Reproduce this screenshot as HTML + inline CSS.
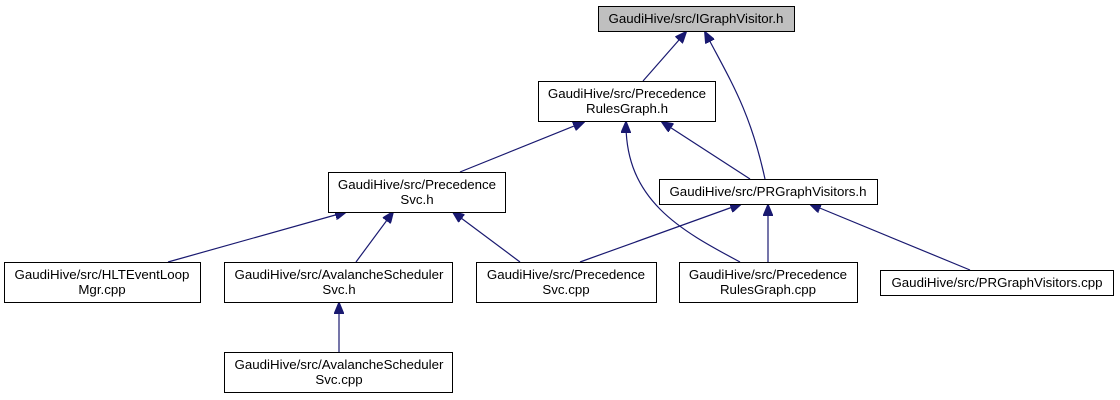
<!DOCTYPE html>
<html><head><style>
body{margin:0;background:#fff;}
svg{display:block;}
text{font-family:"Liberation Sans",sans-serif;font-size:13.3px;fill:#000;text-anchor:middle;}
rect{stroke:#000;stroke-width:1;fill:#fff;}
path{stroke:#191970;stroke-width:1.2;fill:none;}
</style></head><body>
<svg width="1120" height="400" viewBox="0 0 1120 400" xmlns="http://www.w3.org/2000/svg">
<defs>
<marker id="a" markerWidth="12" markerHeight="10" refX="11" refY="5" orient="auto" markerUnits="userSpaceOnUse">
<path d="M0,0 L12,5 L0,10 Z" style="fill:#191970;stroke:#191970;stroke-width:1"/>
</marker>
</defs>
<path d="M643,81 L686,32" marker-end="url(#a)"/>
<path d="M765,179 C750,110 730,80 705,32" marker-end="url(#a)"/>
<path d="M460,172 L584,122" marker-end="url(#a)"/>
<path d="M750,179 L662,122" marker-end="url(#a)"/>
<path d="M740,262 C680,230 625,200 626,122" marker-end="url(#a)"/>
<path d="M168,262 L346,212" marker-end="url(#a)"/>
<path d="M356,262 L393,212" marker-end="url(#a)"/>
<path d="M520,262 L453,212" marker-end="url(#a)"/>
<path d="M580,262 L741,204" marker-end="url(#a)"/>
<path d="M768,262 L768,205" marker-end="url(#a)"/>
<path d="M970,270 L810,204" marker-end="url(#a)"/>
<path d="M339,352 L339,303" marker-end="url(#a)"/>

<rect x="598.5" y="6.5" width="196" height="25" style="fill:#bfbfbf"/>
<text x="696" y="23">GaudiHive/src/IGraphVisitor.h</text>

<rect x="538.5" y="81.5" width="177" height="40"/>
<text x="627" y="98">GaudiHive/src/Precedence</text>
<text x="627" y="113">RulesGraph.h</text>

<rect x="328.5" y="172.5" width="177" height="40"/>
<text x="417" y="189">GaudiHive/src/Precedence</text>
<text x="417" y="204">Svc.h</text>

<rect x="659.5" y="179.5" width="218" height="25"/>
<text x="768" y="196">GaudiHive/src/PRGraphVisitors.h</text>

<rect x="4.5" y="262.5" width="196" height="40"/>
<text x="102" y="279">GaudiHive/src/HLTEventLoop</text>
<text x="102" y="294">Mgr.cpp</text>

<rect x="224.5" y="262.5" width="228" height="40"/>
<text x="339" y="279">GaudiHive/src/AvalancheScheduler</text>
<text x="339" y="294">Svc.h</text>

<rect x="476.5" y="262.5" width="180" height="40"/>
<text x="566" y="279">GaudiHive/src/Precedence</text>
<text x="566" y="294">Svc.cpp</text>

<rect x="679.5" y="262.5" width="178" height="40"/>
<text x="768" y="279">GaudiHive/src/Precedence</text>
<text x="768" y="294">RulesGraph.cpp</text>

<rect x="880.5" y="270.5" width="233" height="25"/>
<text x="997" y="287">GaudiHive/src/PRGraphVisitors.cpp</text>

<rect x="224.5" y="352.5" width="228" height="40"/>
<text x="339" y="369">GaudiHive/src/AvalancheScheduler</text>
<text x="339" y="384">Svc.cpp</text>
</svg>
</body></html>
